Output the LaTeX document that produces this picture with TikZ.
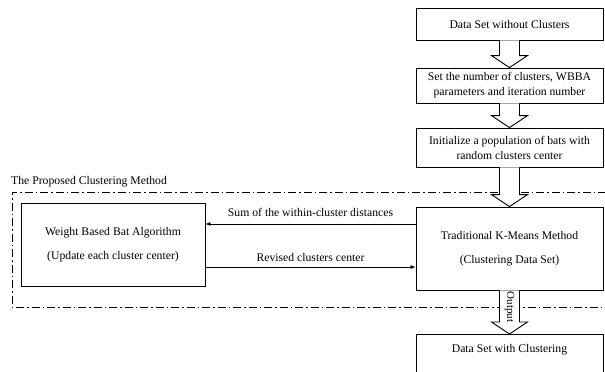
\documentclass[tikz,border=0pt]{standalone}
\usepackage{fontspec}
\setmainfont{Liberation Serif}
\usetikzlibrary{calc,arrows.meta}
\tikzset{
  box/.style={draw=black, line width=0.9pt, fill=white, align=center, minimum width=187pt, inner sep=0pt, font=\fontsize{11.7}{15}\selectfont},
  bigbox/.style={box, minimum height=83pt, font=\fontsize{11.7}{24}\selectfont},
  harrow/.style={draw=black, line width=0.9pt, fill=white, line join=miter},
  flow/.style={draw=black, line width=0.7pt, -{Latex[length=5pt,width=4pt]}},
  frame/.style={draw=black, line width=0.8pt, dash pattern=on 8pt off 3pt on 1.5pt off 3pt},
  lbl/.style={font=\fontsize{11.7}{14}\selectfont, inner sep=0pt}
}
\newcommand{\hollowarr}[2]{\draw[harrow] ($(#1.south)+(-10,0)$) -- ($(#2.north)+(-10,-12)$) -- ($(#2.north)+(-18,-12)$) -- (#2.north) -- ($(#2.north)+(18,-12)$) -- ($(#2.north)+(10,-12)$) -- ($(#1.south)+(10,0)$);}
\begin{document}
\begin{tikzpicture}[x=1pt,y=-1pt]
\useasboundingbox (0,0) rectangle (605,372);
\begin{scope}
\clip (0,0) rectangle (605,372);
% frame
\coordinate (ftr) at (606,192);
\coordinate (ftl) at (12,192);
\coordinate (fbl) at (12,307);
\coordinate (fbr) at (606,307);
\draw[frame] (ftr) -- (ftl) -- (fbl) -- (fbr);
\node[lbl, anchor=west] (title) at (11,181.5) {The Proposed Clustering Method};

\node[box, minimum height=32pt] (b1) at (509.5,24) {Data Set without Clusters};
\node[box, minimum height=35pt] (b2) at (509.5,85.5) {Set the number of clusters, WBBA\\parameters and iteration number};
\node[box, minimum height=39pt] (b3) at (509.5,147.5) {Initialize a population of bats with\\random clusters center};
\node[bigbox] (km) at (509.5,248.5) {\raisebox{3pt}{Traditional K-Means Method}\\\raisebox{3pt}{(Clustering Data Set)}};
\node[bigbox, minimum width=184pt] (wb) at (113,244.5) {\raisebox{3pt}{Weight Based Bat Algorithm}\\\raisebox{3pt}{(Update each cluster center)}};
\node[box, anchor=north, text height=7pt, text depth=17pt, inner ysep=11pt] (b5) at (509.5,334) {Data Set with Clustering};

\hollowarr{b1}{b2}
\hollowarr{b2}{b3}
\hollowarr{b3}{km}
\hollowarr{km}{b5}
\node[font=\fontsize{11}{12}\selectfont, rotate=-90, inner sep=0pt] (outlbl) at ($(km.south)!0.5!(b5.north)+(0,-5)$) {Output};

\draw[flow] (km.west |- 0,224) -- node[lbl, above=7pt] (sumlbl) {Sum of the within-cluster distances} (wb.east |- 0,224);
\draw[flow] (wb.east |- 0,267) -- node[lbl, above=5pt] (revlbl) {Revised clusters center} (km.west |- 0,267);
\end{scope}
\end{tikzpicture}
\end{document}
